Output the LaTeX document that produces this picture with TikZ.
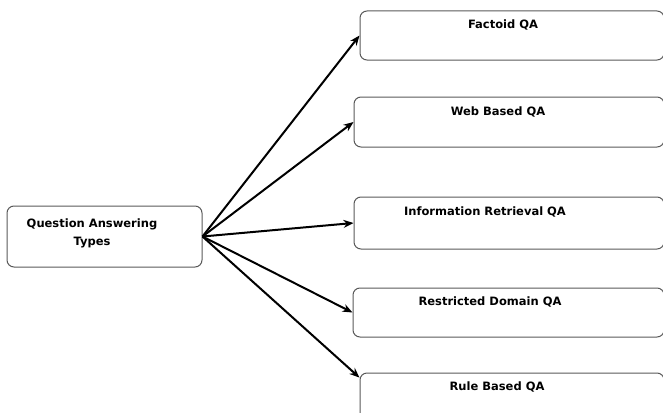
\documentclass[tikz,border=0pt]{standalone}
\usepackage{fontspec}
\setmainfont{DejaVu Sans}
\usetikzlibrary{arrows.meta,calc}
\tikzset{
  qabox/.style={draw=black!65, line width=1pt, rounded corners=7pt, inner sep=0pt},
  qalabel/.style={font=\fontsize{11.5}{18}\selectfont\bfseries, inner sep=0pt},
  qaarrow/.style={-{Stealth[length=10pt,width=8pt]}, line width=2pt}
}
\begin{document}
\begin{tikzpicture}[x=1pt, y=-1pt]
\useasboundingbox (0,0) rectangle (663,412);
\clip (0,0) rectangle (663,412);
\node[qabox, minimum width=195pt, minimum height=61pt] (qat) at (104.5,236.5) {};
\node[qalabel, align=center] (qatlabel) at (92,233) {Question Answering\\Types};
\node[qabox, minimum width=304pt, minimum height=49pt] (factoid) at (512,35.5) {};
\node[qabox, minimum width=310pt, minimum height=50pt] (web) at (509,122) {};
\node[qabox, minimum width=310pt, minimum height=52pt] (ir) at (509,223) {};
\node[qabox, minimum width=311pt, minimum height=49pt] (restricted) at (508.5,312.5) {};
\node[qabox, minimum width=304pt, minimum height=50pt] (rule) at (512,398) {};
\node[qalabel] (factoidlabel) at (503,25) {Factoid QA};
\node[qalabel] (weblabel) at (498,112) {Web Based QA};
\node[qalabel] (irlabel) at (485,212) {Information Retrieval QA};
\node[qalabel] (restrictedlabel) at (490,302) {Restricted Domain QA};
\node[qalabel] (rulelabel) at (497,387) {Rule Based QA};
\draw[qaarrow] (qat.east) -- (factoid.west);
\draw[qaarrow] (qat.east) -- (web.west);
\draw[qaarrow] (qat.east) -- (ir.west);
\draw[qaarrow] (qat.east) -- (restricted.west);
\draw[qaarrow] (qat.east) -- ($(rule.north west)!0.1!(rule.south west)$);
\end{tikzpicture}
\end{document}
